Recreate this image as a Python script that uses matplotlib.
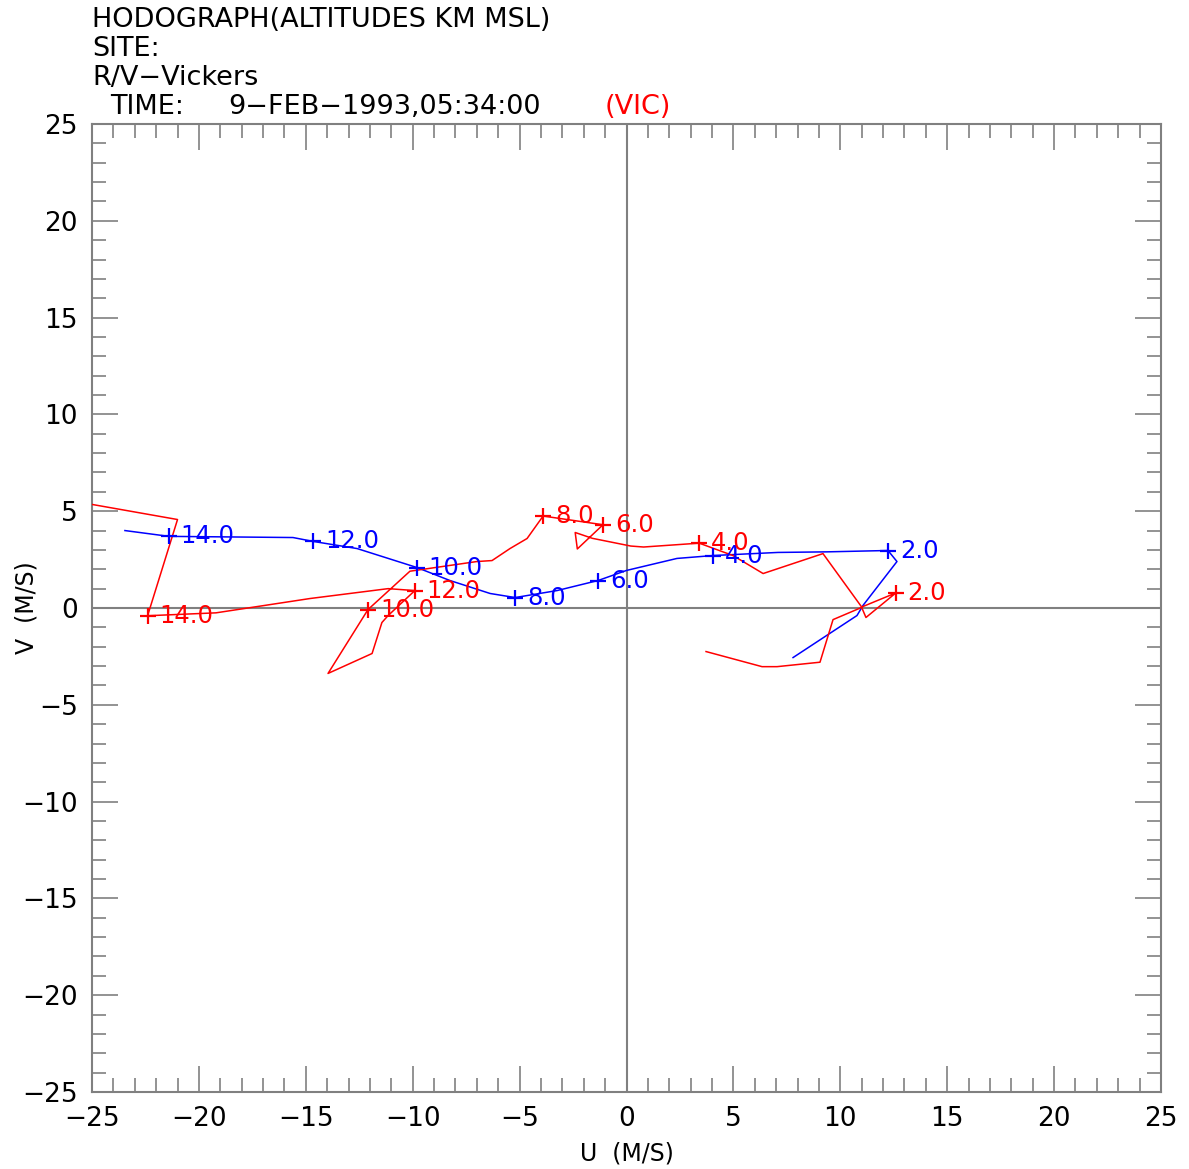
import matplotlib
matplotlib.use("Agg")
import matplotlib.pyplot as plt
from matplotlib.ticker import MultipleLocator

# ---- data ----
blue_u = [7.79, 10.78, 11.06, 12.65, 12.23, 9.37, 7.08, 4.05, 2.36, 0.0, -1.33, -3.25,
          -5.21, -6.38, -8.26, -9.8, -12.6, -14.66, -15.6, -21.4, -23.46]
blue_v = [-2.56, -0.39, 0.13, 2.4, 2.97, 2.9, 2.87, 2.71, 2.56, 1.94, 1.42, 0.9,
          0.54, 0.75, 1.42, 2.09, 3.07, 3.44, 3.64, 3.7, 4.0]
blue_lab_u = [12.23, 4.05, -1.33, -5.21, -9.8, -14.66, -21.4]
blue_lab_v = [2.97, 2.71, 1.42, 0.54, 2.09, 3.44, 3.7]

red_u = [3.72, 6.34, 7.04, 9.05, 9.66, 11.0, 11.2, 12.6, 11.0, 9.19, 6.39, 4.98, 3.4,
         0.8, 0.2, -1.6, -2.4, -2.3, -1.1, -3.9, -4.65, -5.45, -6.29, -7.0, -10.13,
         -12.09, -13.96, -11.9, -11.44, -11.15, -9.9, -11.15, -14.8, -19.2, -22.4,
         -21.0, -25.0]
red_v = [-2.25, -3.03, -3.03, -2.8, -0.6, 0.03, -0.49, 0.78, 0.05, 2.81, 1.78, 2.71, 3.35,
         3.15, 3.2, 3.6, 3.9, 3.05, 4.3, 4.75, 3.59, 3.07, 2.45, 2.4, 1.9,
         -0.08, -3.38, -2.35, -0.75, -0.39, 0.9, 1.0, 0.49, -0.25, -0.4,
         4.57, 5.35]
red_lab_u = [12.6, 3.4, -1.1, -3.9, -12.09, -9.9, -22.4]
red_lab_v = [0.78, 3.35, 4.3, 4.75, -0.08, 0.9, -0.4]

alt_labels = ["2.0", "4.0", "6.0", "8.0", "10.0", "12.0", "14.0"]

xlim = (-25, 25)
ylim = (-25, 25)

# ---- figure ----
plt.rcParams['font.family'] = ['DejaVu Sans']
fig = plt.figure(figsize=(11.89, 11.69), dpi=100)
ax = fig.add_axes([92/1189, 1 - 1092/1169, (1161-92)/1189, (1092-124)/1169])
gray = '#808080'

ax.axhline(0, color=gray, lw=1.5, zorder=1)
ax.axvline(0, color=gray, lw=1.5, zorder=1)

ax.plot(blue_u, blue_v, color='blue', lw=1.1, zorder=3)
ax.plot(red_u, red_v, color='red', lw=1.1, zorder=3)
ax.plot(blue_lab_u, blue_lab_v, ls='none', marker='+', ms=11, mew=1.6, color='blue', zorder=4)
ax.plot(red_lab_u, red_lab_v, ls='none', marker='+', ms=11, mew=1.6, color='red', zorder=4)

for u, v, s in zip(blue_lab_u, blue_lab_v, alt_labels):
    ax.annotate(s, (u, v), xytext=(8.5, 0), textcoords='offset points', color='blue',
                fontsize=17.5, va='center', ha='left', zorder=5)
for u, v, s in zip(red_lab_u, red_lab_v, alt_labels):
    ax.annotate(s, (u, v), xytext=(8.5, 0), textcoords='offset points', color='red',
                fontsize=17.5, va='center', ha='left', zorder=5)

ax.set_xlim(*xlim)
ax.set_ylim(*ylim)
ax.xaxis.set_major_locator(MultipleLocator(5))
ax.xaxis.set_minor_locator(MultipleLocator(1))
ax.yaxis.set_major_locator(MultipleLocator(5))
ax.yaxis.set_minor_locator(MultipleLocator(1))
ax.tick_params(which='both', direction='in', top=True, right=True, color=gray,
               width=1.2, labelsize=19, labelcolor='black')
ax.tick_params(which='major', length=19, pad=10)
ax.tick_params(which='minor', length=10)
for sp in ax.spines.values():
    sp.set_color(gray)
    sp.set_linewidth(1.5)

ax.set_xlabel('U  (M/S)', fontsize=17)
ax.set_ylabel('V  (M/S)', fontsize=17)
ax.xaxis.set_label_coords(0.5, -(1153 - 1092) / 968, transform=ax.transAxes)
ax.xaxis.label.set_va('center')
ax.yaxis.set_label_coords(-(92 - 26) / 1069, 0.5, transform=ax.transAxes)
ax.yaxis.label.set_va('center')

fig.text(92/1189, 1 - 20/1169, 'HODOGRAPH(ALTITUDES KM MSL)', fontsize=19.5, va='center', ha='left')
fig.text(92/1189, 1 - 49/1169, 'SITE:', fontsize=19.5, va='center', ha='left')
fig.text(92/1189, 1 - 78/1169, 'R/V\u2212Vickers', fontsize=19.5, va='center', ha='left')
fig.text(110/1189, 1 - 107/1169, 'TIME:', fontsize=19.5, va='center', ha='left')
fig.text(228/1189, 1 - 107/1169, '9\u2212FEB\u22121993,05:34:00', fontsize=19.5, va='center', ha='left')
fig.text(605/1189, 1 - 107/1169, '(VIC)', fontsize=19.5, va='center', ha='left', color='red')

fig.savefig('out.png', dpi=100)
